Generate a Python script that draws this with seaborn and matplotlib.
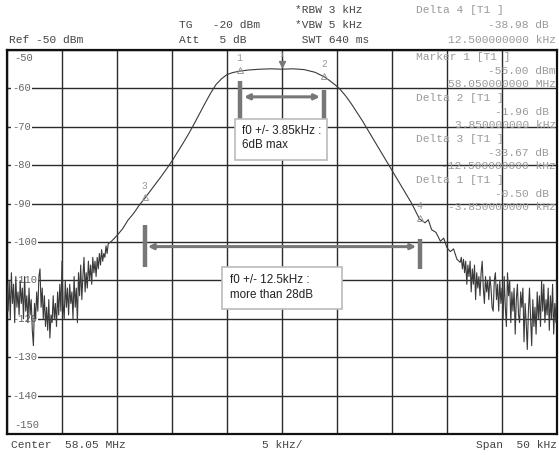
import matplotlib
matplotlib.use("Agg")
import matplotlib.pyplot as plt
import seaborn as sns
import pandas as pd
from matplotlib.patches import Rectangle

# spectrum trace (offset from 58.05 MHz in kHz, level in dBm)
# left noise floor
noise_left_khz = [-25.0, -24.9, -24.8, -24.7, -24.6, -24.5, -24.4, -24.3, -24.2, -24.1,
                  -24.0, -23.9, -23.8, -23.7, -23.6, -23.5, -23.4, -23.3, -23.2, -23.1,
                  -23.0, -22.9, -22.8, -22.7, -22.6, -22.5, -22.4, -22.3, -22.2, -22.1,
                  -22.0, -21.9, -21.8, -21.7, -21.6, -21.5, -21.4, -21.3, -21.2, -21.1,
                  -21.0, -20.9, -20.8, -20.7, -20.6, -20.5, -20.4, -20.3, -20.2, -20.1,
                  -20.0, -19.9, -19.8, -19.7, -19.6, -19.5, -19.4, -19.3, -19.2, -19.1,
                  -19.0, -18.9, -18.8, -18.7, -18.6, -18.5, -18.4, -18.3, -18.2, -18.1,
                  -18.0, -17.9, -17.8, -17.7, -17.6, -17.5, -17.4, -17.3, -17.2, -17.1,
                  -17.0, -16.9, -16.8, -16.7, -16.6, -16.5, -16.4, -16.3, -16.2, -16.1,
                  -16.0, -15.9, -15.8]
noise_left_dbm = [-111, -118, -110, -120, -108, -116, -111, -121, -109, -117,
                  -113, -119, -110, -116, -112, -120, -109, -118, -114, -121,
                  -112, -119, -115, -123, -127, -116, -120, -113, -118, -109,
                  -107, -117, -112, -120, -114, -122, -117, -123, -115, -125,
                  -119, -121, -114, -120, -116, -122, -113, -119, -111, -118,
                  -105, -116, -120, -110, -117, -112, -119, -111, -116, -113,
                  -120, -109, -117, -112, -121, -108, -114, -106, -115, -109,
                  -104, -113, -108, -112, -105, -110, -106, -111, -104, -108,
                  -105, -109, -104, -107, -103, -106, -102, -105, -103, -104,
                  -101, -103, -100.5]
# filter response
filter_khz = [-15.5, -15.0, -14.5, -14.0, -13.5, -13.0, -12.5, -12.0, -11.5, -11.0,
              -10.5, -10.0, -9.5, -9.0, -8.5, -8.0, -7.5, -7.0, -6.5, -6.0,
              -5.5, -5.0, -4.5, -3.85, -3.0, -2.0, -1.0, 0.0, 1.0, 2.0,
              3.0, 3.85, 4.3, 4.8, 5.3, 5.8, 6.3, 6.8, 7.3, 7.8,
              8.3, 8.8, 9.3, 9.8, 10.3, 10.8, 11.3, 11.8, 12.5, 13.0,
              13.3, 13.6, 14.0, 14.4, 14.7, 15.0, 15.3, 15.6, 15.9, 16.2]
filter_dbm = [-99.8, -98.3, -96.6, -94.3, -92.6, -90.5, -88.7, -86.8, -84.9, -83.0,
              -81.0, -78.9, -76.6, -74.3, -71.9, -69.3, -66.6, -63.9, -61.3, -59.0,
              -57.5, -56.4, -55.9, -55.5, -55.2, -55.0, -54.9, -55.0, -54.9, -55.1,
              -55.8, -57.0, -57.9, -59.0, -60.3, -62.0, -64.0, -66.2, -68.4, -70.8,
              -73.2, -75.6, -78.0, -80.4, -82.8, -85.2, -87.6, -90.0, -94.0, -95.0,
              -94.2, -96.8, -97.5, -99.8, -99.0, -101.5, -102.5, -101.8, -104.5, -105.3]
# right noise floor
noise_right_khz = [16.3, 16.4, 16.5, 16.6, 16.7, 16.8, 16.9,
                   17.0, 17.1, 17.2, 17.3, 17.4, 17.5, 17.6, 17.7, 17.8, 17.9,
                   18.0, 18.1, 18.2, 18.3, 18.4, 18.5, 18.6, 18.7, 18.8, 18.9,
                   19.0, 19.1, 19.2, 19.3, 19.4, 19.5, 19.6, 19.7, 19.8, 19.9,
                   20.0, 20.1, 20.2, 20.3, 20.4, 20.5, 20.6, 20.7, 20.8, 20.9,
                   21.0, 21.1, 21.2, 21.3, 21.4, 21.5, 21.6, 21.7, 21.8, 21.9,
                   22.0, 22.1, 22.2, 22.3, 22.4, 22.5, 22.6, 22.7, 22.8, 22.9,
                   23.0, 23.1, 23.2, 23.3, 23.4, 23.5, 23.6, 23.7, 23.8, 23.9,
                   24.0, 24.1, 24.2, 24.3, 24.4, 24.5, 24.6, 24.7, 24.8, 24.9,
                   25.0]
noise_right_dbm = [-104, -107, -104.5, -108, -105, -111, -106,
                   -109, -105, -113, -107, -111, -106, -115, -108, -112, -109,
                   -114, -108, -105, -112, -116, -109, -113, -110, -115, -109,
                   -112, -117, -118, -110, -108, -115, -111, -118, -110, -116,
                   -112, -120, -109, -117, -122, -108, -114, -110, -121, -113,
                   -118, -112, -124, -115, -111, -119, -121, -113, -117, -112,
                   -126, -116, -121, -128, -118, -112, -120, -127, -115, -122,
                   -117, -124, -113, -120, -114, -122, -110, -118, -111, -121,
                   -115, -119, -112, -123, -114, -120, -111, -124, -116, -121,
                   -110]

# markers: (name, offset kHz, level dBm)
marker_names = ["1", "2", "3", "4"]
marker_khz = [-3.85, 3.85, -12.5, 12.5]
marker_dbm = [-55.5, -56.96, -88.67, -93.98]
ref_khz = 0.0
ref_dbm = -55.0

y_levels = [-60, -70, -80, -90, -100, -110, -120, -130, -140]

trace = pd.DataFrame({
    "khz": noise_left_khz + filter_khz + noise_right_khz,
    "dbm": noise_left_dbm + filter_dbm + noise_right_dbm,
})

sns.set_style("white")
plt.rcParams["font.family"] = ["Liberation Mono", "DejaVu Sans Mono"]

W, H = 559, 455
fig = plt.figure(figsize=(W / 100, H / 100), dpi=100)
ax = fig.add_axes([7 / W, 1 - 434 / H, 550 / W, 384 / H])

ax.set_xlim(-25, 25)
ax.set_ylim(-150, -50)
ax.set_xticks(range(-25, 26, 5))
ax.set_yticks(range(-150, -49, 10))
ax.set_xticklabels([])
ax.set_yticklabels([])
ax.tick_params(length=0)
ax.grid(True, color="#2b2b2b", lw=1.0, zorder=1)
ax.set_axisbelow(True)
for s in ax.spines.values():
    s.set_color("#111111")
    s.set_linewidth(1.6)

sns.lineplot(data=trace, x="khz", y="dbm", ax=ax, color="#3a3a3a",
             lw=0.8, sort=False, estimator=None, zorder=4)
ax.set_xlabel("")
ax.set_ylabel("")

# level labels on the grid
lab = dict(fontsize=7.6, color="#666666", zorder=3)
ax.text(-24.3, -52.1, "-50", va="center", ha="left", **lab)
ax.text(-24.3, -147.7, "-150", va="center", ha="left", **lab)
for lv in y_levels:
    ax.text(-24.55, lv, str(lv), va="center", ha="left",
            bbox=dict(fc="white", ec="none", pad=0.6), **lab)

# markers
mk = "#999999"
for name, mx, my in zip(marker_names, marker_khz, marker_dbm):
    ax.plot(mx, my + 0.3, marker="^", ms=4, mfc="none", mec=mk, mew=0.7, zorder=5)
    ax.text(mx, my + 3.3, name, ha="center", va="center", fontsize=7, color=mk, zorder=5)
ax.plot(ref_khz, ref_dbm + 1.3, marker="v", ms=4, color="#777777", zorder=5)
ax.text(ref_khz, ref_dbm + 3.6, "1", ha="center", va="center", fontsize=5, color=mk)

# specification annotations
bar = "#777777"
ax.plot([-3.85, -3.85], [-58.1, -68.2], color=bar, lw=3.2, solid_capstyle="butt", zorder=6)
ax.plot([3.85, 3.85], [-60.4, -68.2], color=bar, lw=3.2, solid_capstyle="butt", zorder=6)
ax.annotate("", xy=(-3.45, -62.2), xytext=(3.45, -62.2), zorder=6,
            arrowprops=dict(arrowstyle="<->,head_length=0.3,head_width=0.15",
                            color=bar, lw=2.2, shrinkA=0, shrinkB=0))
ax.plot([-12.5, -12.5], [-95.5, -106.6], color=bar, lw=3.2, solid_capstyle="butt", zorder=6)
ax.plot([12.5, 12.5], [-99.1, -107.1], color=bar, lw=3.2, solid_capstyle="butt", zorder=6)
ax.annotate("", xy=(-12.2, -101.2), xytext=(12.2, -101.2), zorder=6,
            arrowprops=dict(arrowstyle="<->,head_length=0.3,head_width=0.15",
                            color=bar, lw=2.2, shrinkA=0, shrinkB=0))

ax.add_patch(Rectangle((-4.3, -78.6), 8.4, 10.6, fc="white", ec="#bbbbbb", lw=1.2, zorder=7))
ax.text(-3.65, -72.9, "f0 +/- 3.85kHz :\n6dB max", ha="left", va="center",
        family="Liberation Sans", fontsize=8.4, color="#222222",
        linespacing=1.3, zorder=8)
ax.add_patch(Rectangle((-5.45, -117.5), 10.9, 10.9, fc="white", ec="#bbbbbb", lw=1.2, zorder=7))
ax.text(-4.75, -111.8, "f0 +/- 12.5kHz :\nmore than 28dB", ha="left", va="center",
        family="Liberation Sans", fontsize=8.4, color="#222222",
        linespacing=1.3, zorder=8)

# analyzer header / footer text
def put(px, py, s, color="#444444", ha="left"):
    fig.text(px / W, 1 - py / H, s, ha=ha, va="center", fontsize=8.1, color=color)

put(9, 40, "Ref -50 dBm")
put(179, 25, "TG   -20 dBm")
put(179, 40, "Att   5 dB")
put(295, 10, "*RBW 3 kHz")
put(295, 25, "*VBW 5 kHz")
put(295, 40, " SWT 640 ms")
info = "#9a9a9a"
put(416, 10, "Delta 4 [T1 ]", info)
put(549, 25, "-38.98 dB", info, "right")
put(556, 40, "12.500000000 kHz", info, "right")
rows = [("Marker 1 [T1 ]", "-55.00 dBm", "58.050000000 MHz"),
        ("Delta 2 [T1 ]", "-1.96 dB", "3.850000000 kHz"),
        ("Delta 3 [T1 ]", "-33.67 dB", "-12.500000000 kHz"),
        ("Delta 1 [T1 ]", "-0.50 dB", "-3.850000000 kHz")]
for i, (a, b, c) in enumerate(rows):
    y0 = 57 + i * 41
    put(416, y0, a, info)
    put(556 if b.endswith("dBm") else 549, y0 + 14, b, info, "right")
    put(556, y0 + 27, c, info, "right")

put(11, 445, "Center  58.05 MHz")
put(262, 445, "5 kHz/")
put(476, 445, "Span  50 kHz")

fig.savefig("out.png", dpi=100)
